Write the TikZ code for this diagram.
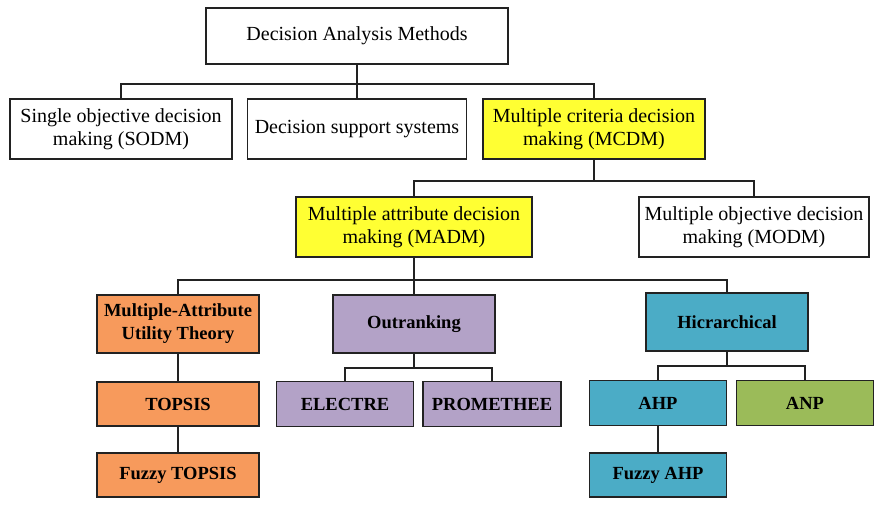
\documentclass[tikz,border=0pt]{standalone}
\usepackage{fontspec}
\setmainfont{Liberation Serif}
\definecolor{cyel}{HTML}{FFFF33}
\definecolor{corg}{HTML}{F79A5C}
\definecolor{cpur}{HTML}{B3A2C7}
\definecolor{cteal}{HTML}{4BACC6}
\definecolor{cgrn}{HTML}{9BBB59}
\definecolor{cedge}{HTML}{222222}
\tikzset{
  box/.style={draw=cedge, line width=1.3pt, rectangle, align=center, inner sep=1pt, font=\fontsize{20}{23}\selectfont},
  bbox/.style={box, font=\fontsize{18.5}{23}\selectfont\bfseries},
  conn/.style={draw=cedge, line width=1.2pt},
}
\begin{document}
\begin{tikzpicture}[x=1pt,y=-1pt]
\useasboundingbox (0,0) rectangle (886,512);
% level 0
\node[box, fill=white, minimum width=302pt, minimum height=56pt] (top) at (357,36) {Decision Analysis Methods};
% level 1
\node[box, fill=white, minimum width=222pt, minimum height=60pt] (sodm) at (121,129) {Single objective decision\\making (SODM)};
\node[box, fill=white, minimum width=219pt, minimum height=60pt] (dss) at (357,129) {Decision support systems};
\node[box, fill=cyel, minimum width=222pt, minimum height=60pt] (mcdm) at (594,129) {Multiple criteria decision\\making (MCDM)};
% level 2
\node[box, fill=cyel, minimum width=236pt, minimum height=60pt] (madm) at (414,227) {Multiple attribute decision\\making (MADM)};
\node[box, fill=white, minimum width=230pt, minimum height=60pt] (modm) at (754,227) {Multiple objective decision\\making (MODM)};
% level 3
\node[bbox, fill=corg, minimum width=162pt, minimum height=58pt] (maut) at (178,324) {Multiple-Attribute\\Utility Theory};
\node[bbox, fill=cpur, minimum width=162pt, minimum height=58pt] (outr) at (414,324) {Outranking};
\node[bbox, fill=cteal, minimum width=162pt, minimum height=58pt] (hier) at (727,322) {Hicrarchical};
% level 4
\node[bbox, fill=corg, minimum width=162pt, minimum height=44pt] (topsis) at (178,404) {TOPSIS};
\node[bbox, fill=corg, minimum width=162pt, minimum height=44pt] (ftopsis) at (178,475) {Fuzzy TOPSIS};
\node[bbox, fill=cpur, minimum width=137pt, minimum height=45pt] (electre) at (345,404) {ELECTRE};
\node[bbox, fill=cpur, minimum width=138pt, minimum height=45pt] (prom) at (492,404) {PROMETHEE};
\node[bbox, fill=cteal, minimum width=137pt, minimum height=45pt] (ahp) at (658,403) {AHP};
\node[bbox, fill=cgrn, minimum width=137pt, minimum height=45pt] (anp) at (805,403) {ANP};
\node[bbox, fill=cteal, minimum width=137pt, minimum height=44pt] (fahp) at (658,475) {Fuzzy AHP};
% junctions
\coordinate (j0) at (357,84);
\coordinate (j1) at (594,181);
\coordinate (j2) at (414,280);
\coordinate (j3) at (414,368);
\coordinate (j4) at (727,366);
% connectors
\draw[conn] (top.south) -- (j0);
\draw[conn] (j0) -| (sodm.north);
\draw[conn] (j0) -- (dss.north);
\draw[conn] (j0) -| (mcdm.north);
\draw[conn] (mcdm.south) -- (j1);
\draw[conn] (j1) -| (madm.north);
\draw[conn] (j1) -| (modm.north);
\draw[conn] (madm.south) -- (j2);
\draw[conn] (j2) -| (maut.north);
\draw[conn] (j2) -- (outr.north);
\draw[conn] (j2) -| (hier.north);
\draw[conn] (maut.south) -- (topsis.north);
\draw[conn] (topsis.south) -- (ftopsis.north);
\draw[conn] (outr.south) -- (j3);
\draw[conn] (j3) -| (electre.north);
\draw[conn] (j3) -| (prom.north);
\draw[conn] (hier.south) -- (j4);
\draw[conn] (j4) -| (ahp.north);
\draw[conn] (j4) -| (anp.north);
\draw[conn] (ahp.south) -- (fahp.north);
\end{tikzpicture}
\end{document}
